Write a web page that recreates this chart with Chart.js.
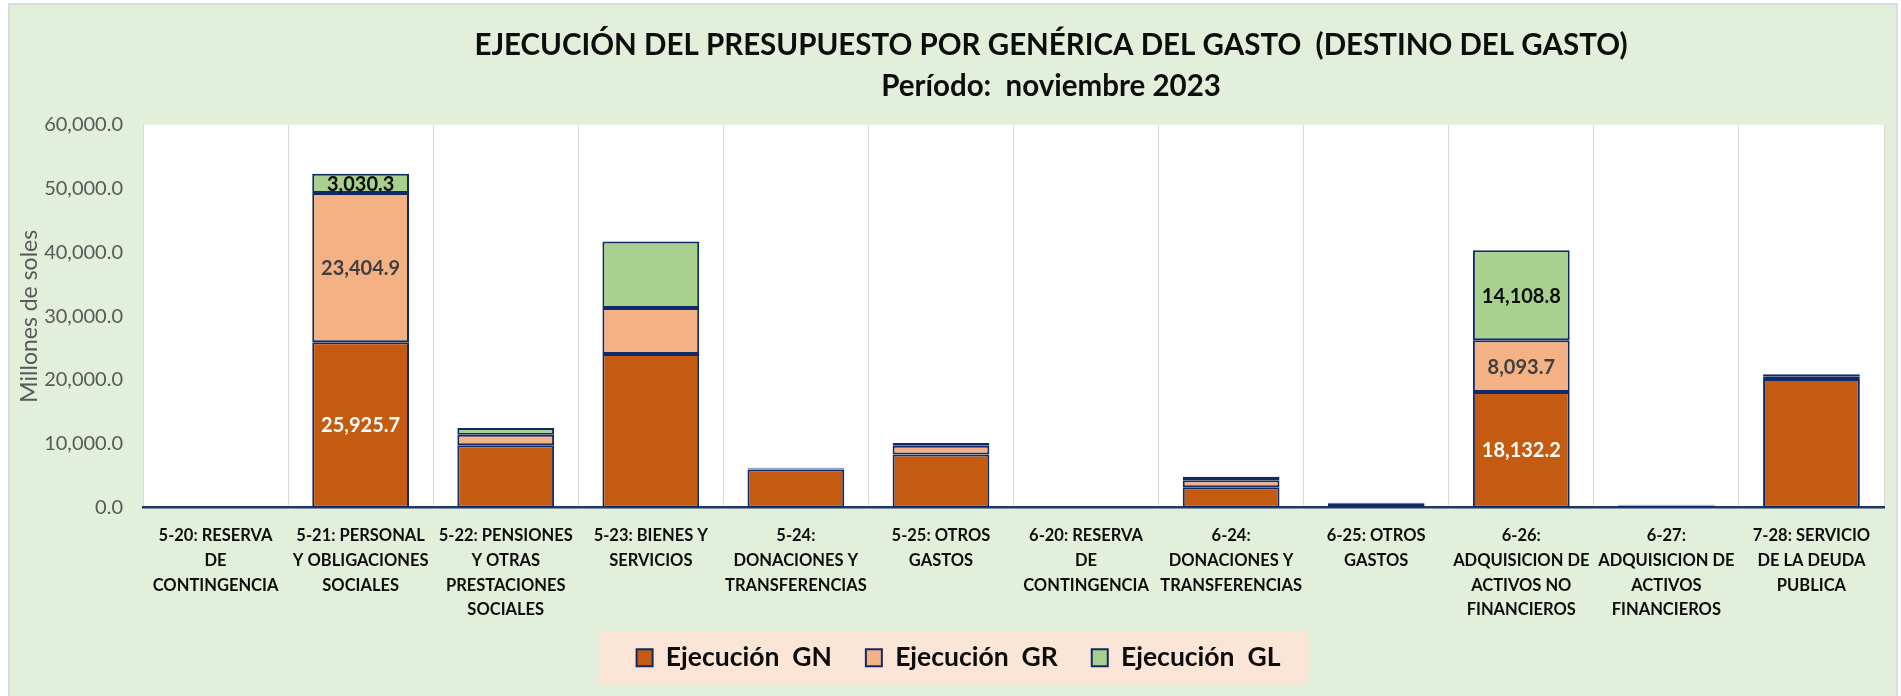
<!DOCTYPE html>
<html><head><meta charset="utf-8">
<script src="https://cdn.jsdelivr.net/npm/chart.js@4.4.0/dist/chart.umd.min.js"></script>
<style>html,body{margin:0;padding:0;background:#fff;overflow:hidden}#wrap{width:1901px;height:696px;position:relative}</style>
</head><body><div id="wrap"><canvas id="c"></canvas></div>
<script>
const categories = [
  ['5-20: RESERVA','DE','CONTINGENCIA'],
  ['5-21: PERSONAL','Y OBLIGACIONES','SOCIALES'],
  ['5-22: PENSIONES','Y OTRAS','PRESTACIONES','SOCIALES'],
  ['5-23: BIENES Y','SERVICIOS'],
  ['5-24:','DONACIONES Y','TRANSFERENCIAS'],
  ['5-25: OTROS','GASTOS'],
  ['6-20: RESERVA','DE','CONTINGENCIA'],
  ['6-24:','DONACIONES Y','TRANSFERENCIAS'],
  ['6-25: OTROS','GASTOS'],
  ['6-26:','ADQUISICION DE','ACTIVOS NO','FINANCIEROS'],
  ['6-27:','ADQUISICION DE','ACTIVOS','FINANCIEROS'],
  ['7-28: SERVICIO','DE LA DEUDA','PUBLICA']
];
const ejecucionGN = [0, 25925.7, 9780, 24080, 5950, 8300, 0, 3180, 400, 18132.2, 300, 20150];
const ejecucionGR = [0, 23404.9, 1650, 7200, 180, 1400, 0, 1100, 180, 8093.7, 60, 350];
const ejecucionGL = [0, 3030.3, 1050, 10440, 120, 420, 0, 530, 150, 14108.8, 60, 400];
const seriesNames = ['Ejecución  GN', 'Ejecución  GR', 'Ejecución  GL'];
const yTicks = [0, 10000, 20000, 30000, 40000, 50000, 60000];
const titleLines = ['EJECUCIÓN DEL PRESUPUESTO POR GENÉRICA DEL GASTO  (DESTINO DEL GASTO)', 'Período:  noviembre 2023'];
const yAxisTitle = 'Millones de soles';
const labelledCategories = [1, 9];

const FONT = 'Lato';
const fmt = v => v.toLocaleString('en-US', {minimumFractionDigits: 1, maximumFractionDigits: 1});

// category scale whose tick labels are not clipped to the axis box
class NoClipCategoryScale extends Chart.CategoryScale {
  _computeLabelArea() { return undefined; }
}
NoClipCategoryScale.id = 'categoryNoClip';
NoClipCategoryScale.defaults = Chart.CategoryScale.defaults;
Chart.register(NoClipCategoryScale);

const bgPlugin = {
  id: 'bg',
  beforeDraw(chart) {
    const {ctx, width, height, chartArea: a} = chart;
    ctx.save();
    ctx.fillStyle = '#ffffff';
    ctx.fillRect(0, 0, width, height);
    ctx.fillStyle = '#E2EFDA';
    ctx.fillRect(9, 4, 1888, height);
    ctx.strokeStyle = '#D4D4D4';
    ctx.lineWidth = 1.5;
    ctx.strokeRect(9, 4, 1888, height + 10);
    ctx.fillStyle = '#ffffff';
    ctx.fillRect(a.left, a.top, a.right - a.left, a.bottom - a.top);
    const lg = chart.legend;
    if (lg && lg.legendHitBoxes && lg.legendHitBoxes.length) {
      const hb = lg.legendHitBoxes;
      const first = hb[0], last = hb[hb.length - 1];
      const cy = first.top + first.height / 2;
      ctx.fillStyle = '#FBE5D6';
      ctx.fillRect(first.left - 38, cy - 26, (last.left + last.width + 28) - (first.left - 38), 53);
    }
    ctx.restore();
  }
};

const titlePlugin = {
  id: 'customTitle',
  afterDraw(chart) {
    const ctx = chart.ctx;
    ctx.save();
    ctx.fillStyle = '#0d0d0d';
    ctx.textAlign = 'center';
    ctx.textBaseline = 'middle';
    ctx.font = `bold 29.5px ${FONT}`;
    ctx.fillText(titleLines[0], 1051, 45);
    ctx.fillText(titleLines[1], 1051, 86);
    ctx.restore();
  }
};

const valueLabels = {
  id: 'valueLabels',
  afterDatasetsDraw(chart) {
    const ctx = chart.ctx;
    ctx.save();
    ctx.textAlign = 'center';
    ctx.textBaseline = 'middle';
    ctx.font = `bold 20px ${FONT}`;
    chart.data.datasets.forEach((ds, di) => {
      const meta = chart.getDatasetMeta(di);
      labelledCategories.forEach(i => {
        const bar = meta.data[i];
        const p = bar.getProps(['x', 'y', 'base'], true);
        ctx.fillStyle = ds.labelColor;
        ctx.fillText(fmt(ds.data[i]), p.x, (p.y + p.base) / 2 + 1);
      });
    });
    ctx.restore();
  }
};

const mkDs = (label, data, color, labelColor) => ({
  label, data, backgroundColor: color, borderColor: '#0F2A66', borderWidth: 2,
  borderSkipped: false, categoryPercentage: 1, barPercentage: 0.667, labelColor
});

new Chart(document.getElementById('c'), {
  type: 'bar',
  data: {
    labels: categories,
    datasets: [
      mkDs(seriesNames[0], ejecucionGN, '#C55A11', '#ffffff'),
      mkDs(seriesNames[1], ejecucionGR, '#F4B183', '#404040'),
      mkDs(seriesNames[2], ejecucionGL, '#A9D18E', '#0d0d0d')
    ]
  },
  options: {
    responsive: true,
    maintainAspectRatio: false,
    animation: false,
    devicePixelRatio: 1,
    layout: {padding: {left: 33, right: 17, top: 125, bottom: 15}},
    plugins: {
      title: {display: false},
      tooltip: {enabled: false},
      legend: {
        position: 'bottom',
        labels: {
          color: '#0d0d0d',
          font: {family: FONT, size: 26.5, weight: 'bold'},
          boxWidth: 16, boxHeight: 17, padding: 34
        }
      }
    },
    scales: {
      x: {
        type: 'categoryNoClip',
        stacked: true,
        offset: true,
        afterFit(s) { s.height = 103; },
        grid: {display: true, color: '#D9D9D9', lineWidth: 1, offset: true, drawTicks: false},
        border: {display: true, color: '#1F3864', width: 2.5},
        ticks: {
          autoSkip: false, maxRotation: 0, minRotation: 0, padding: 16,
          color: '#0d0d0d',
          font: {family: FONT, size: 16.5, weight: 'bold', lineHeight: 1.5}
        }
      },
      y: {
        stacked: true,
        min: yTicks[0], max: yTicks[yTicks.length - 1],
        afterFit(s) { s.width = 110; },
        afterBuildTicks(s) { s.ticks = yTicks.map(v => ({value: v})); },
        grid: {display: false, drawTicks: false},
        border: {display: false},
        ticks: {
          padding: 20, color: '#595959',
          font: {family: FONT, size: 20},
          callback: v => fmt(v)
        },
        title: {
          display: true, text: yAxisTitle, color: '#595959',
          font: {family: FONT, size: 23}, padding: {top: -17, bottom: 0}
        }
      }
    }
  },
  plugins: [bgPlugin, valueLabels, titlePlugin]
});
</script></body></html>
